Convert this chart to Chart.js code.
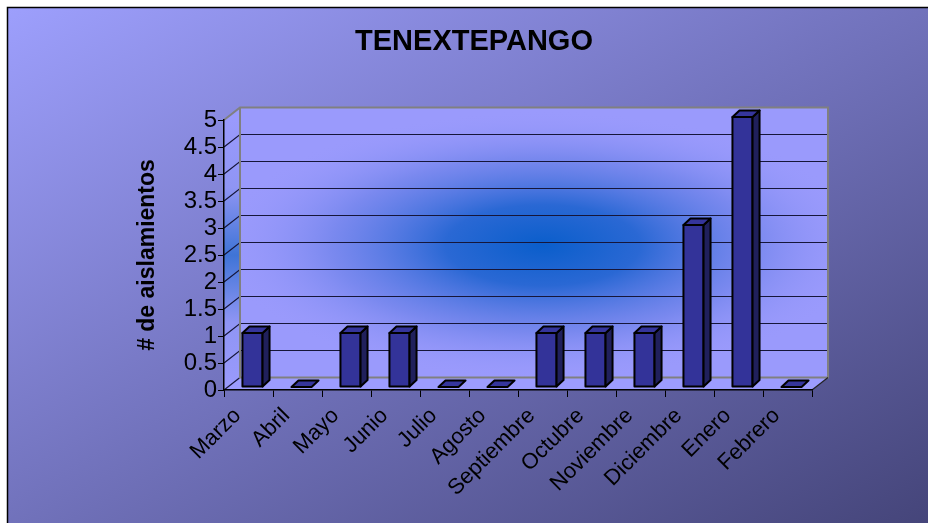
<!DOCTYPE html>
<html>
<head>
<meta charset="utf-8">
<script src="https://cdn.jsdelivr.net/npm/chart.js@4.4.1/dist/chart.umd.min.js"></script>
<style>
  html, body { margin: 0; padding: 0; background: #fff; }
  #wrap { width: 928px; height: 523px; }
</style>
</head>
<body>
<div id="wrap"><canvas id="chart" width="928" height="523"></canvas></div>
<script>
// data
const categories = ['Marzo', 'Abril', 'Mayo', 'Junio', 'Julio', 'Agosto',
  'Septiembre', 'Octubre', 'Noviembre', 'Diciembre', 'Enero', 'Febrero'];
const aislamientos = [1, 0, 1, 1, 0, 0, 1, 1, 1, 3, 5, 0];
const yTickLabels = ['0', '0.5', '1', '1.5', '2', '2.5', '3', '3.5', '4', '4.5', '5'];

// fake 3d look (Excel style)
const WALL_DX = 16, WALL_DY = -12.5;
const BAR_DX = 4, BAR_DY = -3;
const DEPTH_DX = 7, DEPTH_DY = -6.5;
const FONT = "'Liberation Sans', Arial, sans-serif";

const backgroundPlugin = {
    id: 'background',
    beforeDraw(chart) {
        const ctx = chart.ctx;
        const w = chart.width, h = chart.height;
        ctx.save();
        ctx.fillStyle = '#fff';
        ctx.fillRect(0, 0, w, h);
        const g = ctx.createLinearGradient(0, 0, 444, 793);
        g.addColorStop(0, '#9ea0fe');
        g.addColorStop(1, '#45457a');
        ctx.fillStyle = g;
        ctx.fillRect(7, 7, w - 7, h - 7);
        ctx.strokeStyle = '#000';
        ctx.lineWidth = 1.5;
        ctx.beginPath();
        ctx.moveTo(7.5, h);
        ctx.lineTo(7.5, 7.5);
        ctx.lineTo(w, 7.5);
        ctx.stroke();

        // walls and floor
        const area = chart.chartArea;
        const y = chart.scales.y;
        const l = area.left, r = area.right, t = area.top, b = area.bottom;

        // side wall
        const sg = ctx.createLinearGradient(0, t, 0, b);
        sg.addColorStop(0, '#9a9afc');
        sg.addColorStop(0.25, '#8f95f4');
        sg.addColorStop(0.5, '#3f74d6');
        sg.addColorStop(0.75, '#8f95f4');
        sg.addColorStop(1, '#9a9afc');
        ctx.fillStyle = sg;
        ctx.beginPath();
        ctx.moveTo(l, t);
        ctx.lineTo(l + WALL_DX, t + WALL_DY);
        ctx.lineTo(l + WALL_DX, b + WALL_DY);
        ctx.lineTo(l, b);
        ctx.closePath();
        ctx.fill();

        // back wall
        const bx = l + WALL_DX, by = t + WALL_DY;
        const bw = r - l, bh = b - t;
        ctx.fillStyle = '#9a9afc';
        ctx.fillRect(bx, by, bw, bh);
        ctx.save();
        ctx.beginPath();
        ctx.rect(bx, by, bw, bh);
        ctx.clip();
        ctx.translate(bx + bw * 0.515, by + bh * 0.51);
        ctx.scale(2.4, 1);
        const rg = ctx.createRadialGradient(0, 0, 0, 0, 0, 135);
        rg.addColorStop(0, '#0a5ecb');
        rg.addColorStop(0.3, '#2a68d4');
        rg.addColorStop(0.65, 'rgba(100,125,230,0.6)');
        rg.addColorStop(1, 'rgba(154,154,252,0)');
        ctx.fillStyle = rg;
        ctx.fillRect(-bw, -bh, bw * 2, bh * 2);
        ctx.restore();

        // floor
        ctx.fillStyle = '#9c9cfe';
        ctx.beginPath();
        ctx.moveTo(l, b);
        ctx.lineTo(r, b);
        ctx.lineTo(r + WALL_DX, b + WALL_DY);
        ctx.lineTo(l + WALL_DX, b + WALL_DY);
        ctx.closePath();
        ctx.fill();

        // gridlines on back wall + side wall
        ctx.lineWidth = 1.2;
        ctx.strokeStyle = '#16163a';
        for (let i = 1; i < yTickLabels.length - 1; i++) {
            const py = y.getPixelForValue(Number(yTickLabels[i]));
            ctx.beginPath();
            ctx.moveTo(l, py);
            ctx.lineTo(l + WALL_DX, py + WALL_DY);
            ctx.lineTo(r + WALL_DX, py + WALL_DY);
            ctx.stroke();
        }
        ctx.beginPath();
        ctx.moveTo(l, b);
        ctx.lineTo(l + WALL_DX, b + WALL_DY);
        ctx.stroke();

        // frame
        ctx.strokeStyle = '#808080';
        ctx.lineWidth = 2;
        ctx.beginPath();
        ctx.moveTo(l, t);
        ctx.lineTo(l + WALL_DX, t + WALL_DY);
        ctx.lineTo(r + WALL_DX, t + WALL_DY);
        ctx.lineTo(r + WALL_DX, b + WALL_DY);
        ctx.lineTo(l + WALL_DX, b + WALL_DY);
        ctx.lineTo(l + WALL_DX, t + WALL_DY);
        ctx.stroke();
        ctx.strokeStyle = '#222';
        ctx.lineWidth = 1.2;
        ctx.beginPath();
        ctx.moveTo(r, b);
        ctx.lineTo(r + WALL_DX, b + WALL_DY);
        ctx.stroke();
        ctx.restore();
    }
};

const bars3dPlugin = {
    id: 'bars3d',
    beforeDatasetsDraw(chart) {
        const ctx = chart.ctx;
        const meta = chart.getDatasetMeta(0);
        ctx.save();
        ctx.lineWidth = 2;
        ctx.strokeStyle = '#000';
        ctx.lineJoin = 'round';
        meta.data.forEach(el => {
            const left = el.x - el.width / 2 + BAR_DX;
            const right = el.x + el.width / 2 + BAR_DX;
            const top = el.y + BAR_DY;
            const bottom = el.base + BAR_DY;
            const poly = (pts, fill) => {
                ctx.beginPath();
                ctx.moveTo(pts[0][0], pts[0][1]);
                for (let k = 1; k < pts.length; k++) ctx.lineTo(pts[k][0], pts[k][1]);
                ctx.closePath();
                ctx.fillStyle = fill;
                ctx.fill();
                ctx.stroke();
            };
            if (bottom - top > 0.5) {
                poly([[left, top], [right, top], [right, bottom], [left, bottom]], '#333399');
                poly([[right, top], [right + DEPTH_DX, top + DEPTH_DY],
                      [right + DEPTH_DX, bottom + DEPTH_DY], [right, bottom]], '#20205c');
            }
            poly([[left, top], [right, top], [right + DEPTH_DX, top + DEPTH_DY],
                  [left + DEPTH_DX, top + DEPTH_DY]], '#35359c');
        });
        ctx.restore();
        return false;
    }
};

new Chart(document.getElementById('chart'), {
    type: 'bar',
    data: {
        labels: categories,
        datasets: [{
            label: '# de aislamientos',
            data: aislamientos,
            backgroundColor: '#333399',
            barPercentage: 0.41,
            categoryPercentage: 1
        }]
    },
    options: {
        responsive: false,
        animation: false,
        devicePixelRatio: 1,
        layout: { padding: { left: 20, right: 0, top: 0, bottom: 0 } },
        plugins: {
            legend: { display: false },
            tooltip: { enabled: false },
            title: {
                display: true,
                text: 'TENEXTEPANGO',
                color: '#000',
                font: { family: FONT, size: 29, weight: 'bold' },
                padding: { top: 24.6, bottom: 60.6 }
            }
        },
        scales: {
            x: {
                grid: { offset: true, drawOnChartArea: false, drawTicks: true, tickLength: 7, color: '#000' },
                border: { display: true, color: '#000', width: 1.5 },
                ticks: {
                    color: '#000',
                    font: { family: FONT, size: 22 },
                    minRotation: 45,
                    maxRotation: 45,
                    autoSkip: false,
                    padding: 6,
                    labelOffset: -11
                },
                afterFit(scale) { scale.height = 133; }
            },
            y: {
                min: 0,
                max: 5,
                grid: { drawOnChartArea: false, drawTicks: true, tickLength: 6, color: '#000' },
                border: { display: true, color: '#000', width: 1.5 },
                ticks: {
                    stepSize: 0.5,
                    autoSkip: false,
                    color: '#000',
                    font: { family: FONT, size: 24, lineHeight: 1 },
                    padding: 1,
                    callback: (v, i) => yTickLabels[i]
                },
                title: {
                    display: true,
                    text: '# de aislamientos',
                    color: '#000',
                    font: { family: FONT, size: 23, weight: 'bold' },
                    padding: { top: 114, bottom: 0 }
                },
                afterFit(scale) { scale.width = 204; }
            },
            y2: {
                position: 'right',
                display: true,
                grid: { display: false },
                border: { display: false },
                ticks: { display: false },
                afterFit(scale) { scale.width = 116; }
            }
        }
    },
    plugins: [backgroundPlugin, bars3dPlugin]
});
</script>
</body>
</html>
